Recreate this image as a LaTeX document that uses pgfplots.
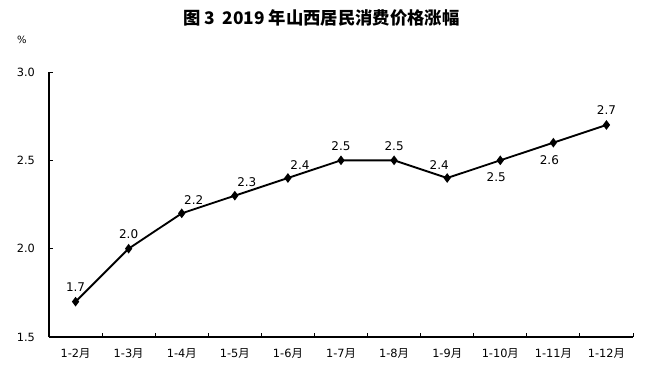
\documentclass[border=0pt]{standalone}
\usepackage{fontspec}
\setmainfont{DejaVu Sans}
\newfontfamily\cjk{Noto Sans CJK SC}
\usepackage{pgfplots}
\pgfplotsset{compat=1.18}
\begin{document}
\begin{tikzpicture}
\useasboundingbox (0,0) rectangle (500.25pt,280.5pt);
\node[font=\cjk\bfseries\fontsize{13}{15}\selectfont] at (241pt,267pt) {图 3\ \ 2019 年山西居民消费价格涨幅};
\node[font=\fontsize{7.5}{8}\selectfont] at (16.5pt,250.5pt) {\%};
\begin{axis}[
  at={(36.75pt,27.75pt)}, anchor=south west,
  scale only axis, width=438pt, height=198.75pt,
  xmin=-0.5, xmax=10.5, ymin=1.5, ymax=3.0,
  axis x line*=bottom, axis y line*=left,
  axis line style={line width=0.9pt, -},
  xtick={-0.5,0.5,...,10.5},
  xticklabels={},
  extra x ticks={0,1,2,3,4,5,6,7,8,9,10},
  extra x tick labels={1-2{\cjk 月},1-3{\cjk 月},1-4{\cjk 月},1-5{\cjk 月},1-6{\cjk 月},1-7{\cjk 月},1-8{\cjk 月},1-9{\cjk 月},1-10{\cjk 月},1-11{\cjk 月},1-12{\cjk 月}},
  extra x tick style={major tick length=0pt},
  ytick={1.5,2.0,2.5,3.0},
  yticklabel style={/pgf/number format/fixed, /pgf/number format/fixed zerofill, /pgf/number format/precision=1},
  /pgf/number format/assume math mode=true,
  tick align=inside, major tick length=3pt,
  tick style={black, line width=0.7pt},
  tick label style={font=\fontsize{8.5}{9}\selectfont},
  xticklabel style={yshift=-5pt},
  yticklabel style={xshift=-7pt},
  every node near coord/.append style={font=\fontsize{9}{10}\selectfont, black},
  clip=false,
]
\addplot[black, line width=1.4pt, mark=diamond*, mark size=2.5pt] coordinates {
 (0,1.7) (1,2.0) (2,2.2) (3,2.3) (4,2.4) (5,2.5) (6,2.5) (7,2.4) (8,2.5) (9,2.6) (10,2.7)};
% labels above
\addplot[draw=none, nodes near coords, point meta=explicit symbolic,
  every node near coord/.append style={anchor=south, yshift=4pt}] coordinates {
 (0,1.7)[1.7] (1,2.0)[2.0] (5,2.5)[2.5] (6,2.5)[2.5] (10,2.7)[2.7]};
\addplot[draw=none, nodes near coords, point meta=explicit symbolic,
  every node near coord/.append style={anchor=south, yshift=3pt, xshift=9pt}] coordinates {
 (2,2.2)[2.2] (3,2.3)[2.3] (4,2.4)[2.4]};
\addplot[draw=none, nodes near coords, point meta=explicit symbolic,
  every node near coord/.append style={anchor=south, yshift=3pt, xshift=-6pt}] coordinates {
 (7,2.4)[2.4]};
\addplot[draw=none, nodes near coords, point meta=explicit symbolic,
  every node near coord/.append style={anchor=north, yshift=-6pt, xshift=-3pt}] coordinates {
 (8,2.5)[2.5] (9,2.6)[2.6]};
\end{axis}
\end{tikzpicture}
\end{document}
